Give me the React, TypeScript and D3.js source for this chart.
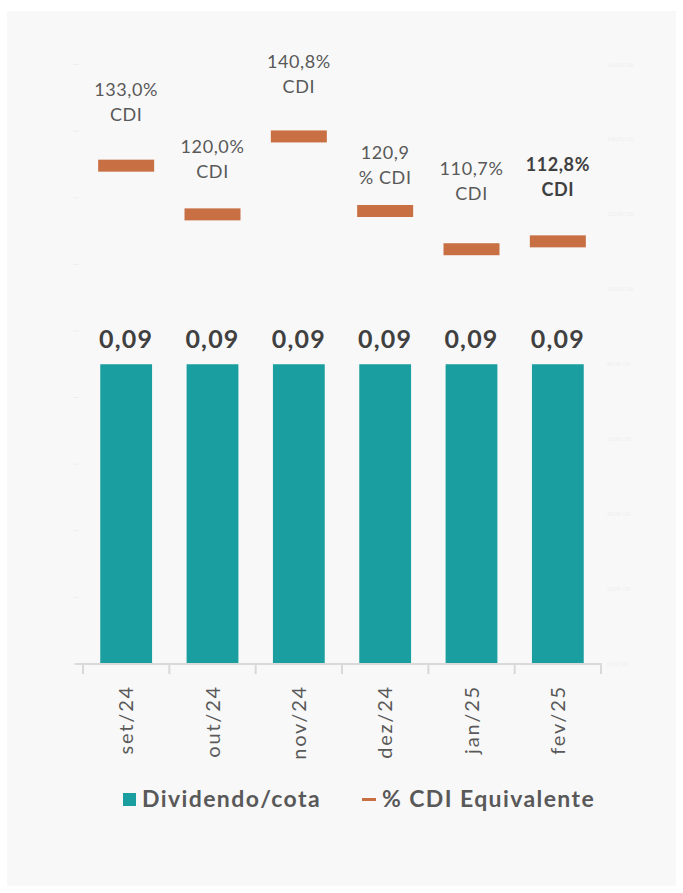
import React, { useEffect, useRef } from "react";
import * as d3 from "d3";

// data
const months = ["set/24", "out/24", "nov/24", "dez/24", "jan/25", "fev/25"];
const dividend = [0.09, 0.09, 0.09, 0.09, 0.09, 0.09];
const cdiPct = [133.0, 120.0, 140.8, 120.9, 110.7, 112.8];
const cdiLabels = [
  ["133,0%", "CDI"],
  ["120,0%", "CDI"],
  ["140,8%", "CDI"],
  ["120,9", "% CDI"],
  ["110,7%", "CDI"],
  ["112,8%", "CDI"],
];
const leftTicks = [0, 0.02, 0.04, 0.06, 0.08, 0.1, 0.12, 0.14, 0.16, 0.18];
const rightTicks = [0, 20, 40, 60, 80, 100, 120, 140, 160];

const TEAL = "#1b9e9f";
const ORANGE = "#c87044";
const FONT = "Lato, 'Open Sans', sans-serif";

const App: React.FC = () => {
  const svgRef = useRef<SVGSVGElement>(null);

  useEffect(() => {
    document.body.style.margin = "0";
    const svg = d3.select(svgRef.current);
    svg.selectAll("*").remove();
    const width = 683;
    const height = 893;

    // panel background
    svg.append("rect").attr("width", width).attr("height", height).attr("fill", "#ffffff");
    svg.append("rect").attr("x", 7).attr("y", 11).attr("width", 669).attr("height", 875).attr("fill", "#f8f8f8");

    const x = d3.scaleBand<string>().domain(months).range([83, 601]).paddingInner(0.4).paddingOuter(0.2);
    const yL = d3.scaleLinear().domain([0, 0.18]).range([664, 64.5]);
    const yR = d3.scaleLinear().domain([0, 160]).range([664, 64.5]);
    const step = x.step();
    const cx = (m: string) => x(m)! + x.bandwidth() / 2;

    // faint axis ticks (almost invisible in the original)
    svg
      .append("g")
      .selectAll("line")
      .data(leftTicks)
      .join("line")
      .attr("x1", 73)
      .attr("x2", 79)
      .attr("y1", (d) => yL(d))
      .attr("y2", (d) => yL(d))
      .attr("stroke", "#eeeeee");

    svg
      .append("g")
      .selectAll("text")
      .data(rightTicks)
      .join("text")
      .attr("x", 607)
      .attr("y", (d) => yR(d) + 2)
      .attr("font-family", FONT)
      .attr("font-size", 5)
      .attr("fill", "#eeeeee")
      .text((d) => `${d},0% CDI`);

    // bars
    svg
      .append("g")
      .selectAll("rect")
      .data(dividend)
      .join("rect")
      .attr("x", (d, i) => x(months[i])!)
      .attr("y", (d) => yL(d))
      .attr("width", x.bandwidth())
      .attr("height", (d) => yL(0) - yL(d))
      .attr("fill", TEAL);

    svg
      .append("g")
      .selectAll("text")
      .data(dividend)
      .join("text")
      .attr("x", (d, i) => cx(months[i]))
      .attr("y", (d) => yL(d) - 16)
      .attr("text-anchor", "middle")
      .attr("font-family", FONT)
      .attr("font-weight", "bold")
      .attr("font-size", 25)
      .attr("letter-spacing", 1.2)
      .attr("fill", "#404040")
      .text((d) => d3.format(".2f")(d).replace(".", ","));

    // CDI markers
    const markW = 56;
    svg
      .append("g")
      .selectAll("rect")
      .data(cdiPct)
      .join("rect")
      .attr("x", (d, i) => cx(months[i]) - markW / 2)
      .attr("y", (d) => yR(d) - 6)
      .attr("width", markW)
      .attr("height", 12)
      .attr("fill", ORANGE);

    // label baseline offsets above each marker (labels were hand placed)
    const labelOffset = [-70, -61, -68, -52, -74, -70];
    cdiPct.forEach((v, i) => {
      const last = i === cdiPct.length - 1;
      const t = svg
        .append("text")
        .attr("x", cx(months[i]))
        .attr("y", yR(v) + labelOffset[i])
        .attr("text-anchor", "middle")
        .attr("font-family", FONT)
        .attr("font-size", 18)
        .attr("letter-spacing", 0.6)
        .attr("font-weight", last ? "bold" : "normal")
        .attr("fill", last ? "#404040" : "#595959");
      cdiLabels[i].forEach((line, j) => {
        t.append("tspan")
          .attr("x", cx(months[i]))
          .attr("dy", j === 0 ? 0 : 25)
          .text(line);
      });
    });

    // x axis
    const axisY = yL(0);
    svg
      .append("line")
      .attr("x1", 75)
      .attr("x2", 602)
      .attr("y1", axisY)
      .attr("y2", axisY)
      .attr("stroke", "#d9d9d9")
      .attr("stroke-width", 2);

    svg
      .append("g")
      .selectAll("line")
      .data(d3.range(months.length + 1))
      .join("line")
      .attr("x1", (i) => 83 + i * step)
      .attr("x2", (i) => 83 + i * step)
      .attr("y1", axisY)
      .attr("y2", axisY + 10)
      .attr("stroke", "#d9d9d9")
      .attr("stroke-width", 2);

    svg
      .append("g")
      .selectAll("text")
      .data(months)
      .join("text")
      .attr("transform", (d) => `translate(${cx(d)},685) rotate(-90)`)
      .attr("dy", "0.35em")
      .attr("text-anchor", "end")
      .attr("font-family", FONT)
      .attr("font-size", 20)
      .attr("letter-spacing", 1.8)
      .attr("fill", "#595959")
      .text((d) => d);

    // legend
    const legend = svg
      .append("g")
      .attr("font-family", FONT)
      .attr("font-weight", "bold")
      .attr("font-size", 23)
      .attr("letter-spacing", 1.4)
      .attr("fill", "#595959");
    legend.append("rect").attr("x", 123).attr("y", 793).attr("width", 13).attr("height", 13).attr("fill", TEAL);
    legend.append("text").attr("x", 142).attr("y", 807).text("Dividendo/cota");
    legend
      .append("line")
      .attr("x1", 362)
      .attr("x2", 376)
      .attr("y1", 799.5)
      .attr("y2", 799.5)
      .attr("stroke", ORANGE)
      .attr("stroke-width", 3);
    legend.append("text").attr("x", 382).attr("y", 807).text("% CDI Equivalente");
  }, []);

  return <svg ref={svgRef} width={683} height={893} style={{ display: "block" }}></svg>;
};

export default App;
